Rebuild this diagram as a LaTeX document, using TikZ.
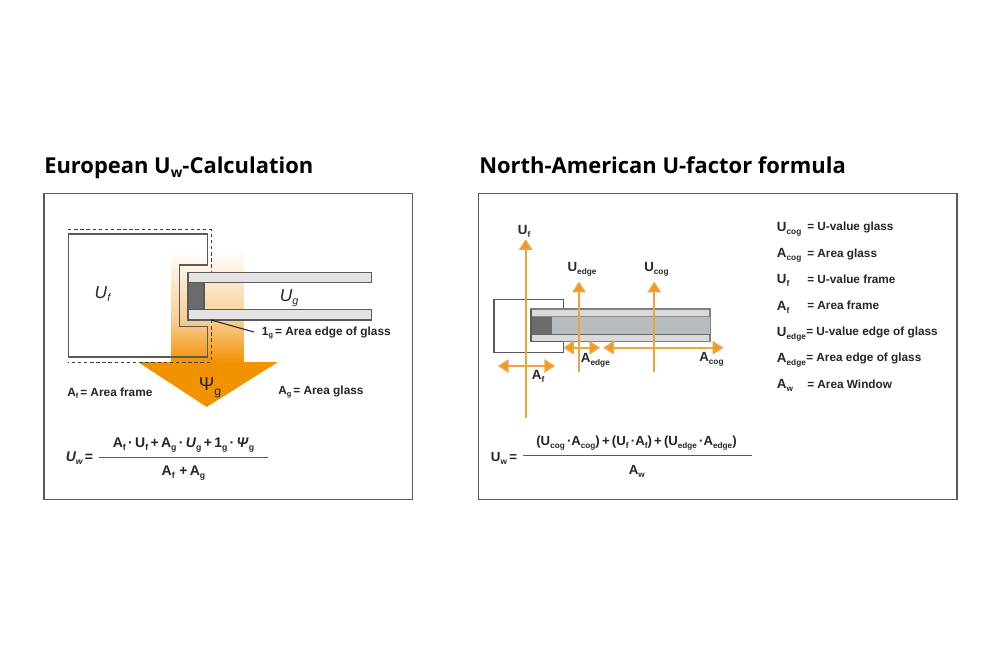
\documentclass[tikz,border=0pt]{standalone}
\usepackage{fontspec}
\setmainfont{Liberation Sans}
\newfontfamily\titlefont{Open Sans}
\usetikzlibrary{arrows.meta}
\definecolor{ink}{HTML}{262626}
\definecolor{boxline}{HTML}{5A5A5A}
\definecolor{orng}{HTML}{F39200}
\definecolor{orngmid}{HTML}{F9CB8E}
\definecolor{orngline}{HTML}{F0A33A}
\definecolor{orngtip}{HTML}{F0981E}
\definecolor{glassmid}{HTML}{B6BCC0}
\definecolor{glassout}{HTML}{DADADA}
\newcommand{\sbs}[1]{\smash{\raisebox{-0.42ex}{\scalebox{0.62}{#1}}}}
\newcommand{\fsz}[1]{\fontsize{#1}{#1}\selectfont}
\tikzset{
  x=0.75pt,y=-0.75pt,
  panel/.style={draw=boxline,line width=1pt},
  heading/.style={anchor=base west,inner sep=0,text=black,font=\titlefont\bfseries\fsz{16.45}},
  lbl/.style={anchor=west,inner sep=0,text=ink,text height=6.4pt,text depth=0pt,font=\bfseries\fsz{8.85}},
  midlbl/.style={lbl,font=\bfseries\fsz{8.9}},
  biglbl/.style={anchor=west,inner sep=0,text=ink,text height=6.6pt,text depth=0pt,font=\bfseries\fsz{10}},
  ital/.style={anchor=center,inner sep=0,text=ink,text height=9pt,text depth=0pt,font=\itshape\fsz{13}},
  frameline/.style={draw=boxline,line width=1.05pt},
  rule/.style={draw=boxline,line width=0.9pt},
  dashline/.style={draw=black!75,line width=0.7pt,dash pattern=on 2.6pt off 2pt},
  pane/.style={draw=boxline,line width=1.05pt,fill=black!11},
  oarrow/.style={draw=orngline,line width=1.3pt,-{Triangle[width=10pt,length=8pt,fill=orngtip]}},
  odouble/.style={draw=orngline,line width=1.3pt,{Triangle[width=10pt,length=8pt,fill=orngtip]}-{Triangle[width=10pt,length=8pt,fill=orngtip]}},
  fml/.style={inner sep=0,text=ink,text height=7pt,text depth=0pt,font=\bfseries\fsz{10.5}},
  fmr/.style={inner sep=0,text=ink,text height=7pt,text depth=0pt,font=\bfseries\fsz{9.9}},
}
\begin{document}
\begin{tikzpicture}
\useasboundingbox (0,0) rectangle (1000,668);
\fill[white] (0,0) rectangle (1000,668);

% headings
\node[heading] (t1) at (44,173) {European U\raisebox{-0.35ex}{\scalebox{0.62}{w}}-Calculation};
\node[heading] (t2) at (479,173) {North-American U-factor formula};

% panels
\draw[panel] (44,193.5) rectangle (412.5,499.5);
\draw[panel] (478.5,193.5) rectangle (957,499.5);

% ---------- left: heat flow
\shade[top color=white,bottom color=orngmid] (171.7,250) rectangle (243.3,322);
\shade[top color=orngmid,bottom color=orng] (171.7,321.5) rectangle (243.3,362.5);
\fill[orng] (138,362) -- (278,362) -- (206.7,407) -- cycle;

% frame
\draw[frameline] (68.3,234) -- (207.3,234) -- (207.3,265) -- (179.3,265) -- (179.3,326.7)
  -- (207.3,326.7) -- (207.3,357) -- (68.3,357) -- cycle;
% dashed outline
\draw[dashline] (68,229.5) -- (211,229.5) -- (211,272);
\draw[dashline] (211,320) -- (211,362) -- (68,362);
% glass
\draw[pane] (188,272.3) rectangle (371.7,282.3);
\draw[pane] (188,309.3) rectangle (371.7,320);
\draw[boxline,line width=1.05pt,fill=black!58] (188,282.3) rectangle (204,309.3);

\coordinate (leadA) at (211,320);
\node[midlbl] (edgelbl) at (261.7,331) {1\sbs{g}\,= Area edge of glass};
\draw[draw=ink,line width=0.8pt] (leadA) -- (254,332);

\node[ital] (uf) at (102.5,292) {U\sbs{f}};
\node[ital] (ug) at (289,295) {U\sbs{g}};
\node[inner sep=0,text=ink,text height=10pt,text depth=0pt,font=\fsz{14}] (psi) at (210,384) {Ψ\raisebox{-0.5ex}{\scalebox{0.65}{g}}};
\node[midlbl] (afl) at (67,392) {A\sbs{f}\,= Area frame};
\node[midlbl] (agl) at (278,390) {A\sbs{g}\,= Area glass};

% left formula
\node[biglbl,font=\bfseries\itshape\fsz{10.5}] (uwl) at (65.5,457) {U\sbs{w}\,\textup{=}};
\node[fml] (numl) at (183.5,443) {A\sbs{f}\,·\,U\sbs{f}\,+\,A\sbs{g}\,·\,\textit{U}\sbs{g}\,+\,1\sbs{g}\,·\,\textit{Ψ}\sbs{g}};
\node[fml] (denl) at (183.5,470.5) {A\sbs{f}\,\,+\,A\sbs{g}};
\coordinate (fl1) at (99.3,457.3);
\coordinate (fl2) at (268,457.3);
\draw[rule] (fl1) -- (fl2);

% ---------- right: frame + glass
\draw[frameline] (563.3,309) -- (563.3,299.3) -- (494,299.3) -- (494,352.7) -- (563.3,352.7) -- (563.3,341.5);
\draw[draw=black!50,line width=0.9pt,fill=glassout] (531,309) rectangle (710,341.3);
\fill[glassmid] (532,316.7) rectangle (710,334.3);
\draw[draw=black!45,line width=0.6pt] (532,316.7) -- (710,316.7);
\draw[draw=black!60,line width=0.7pt] (532,334.3) -- (710,334.3);
\fill[black!58] (532,316.7) rectangle (551.7,334.3);
\draw[draw=boxline,line width=1.05pt] (531,309) -- (531,341.3) -- (563.3,341.3);

% right arrows
\coordinate (ufa) at (525.7,418);  \coordinate (ufb) at (525.7,239.3);
\coordinate (uea) at (579,372);    \coordinate (ueb) at (579,281.7);
\coordinate (uca) at (654.3,372.3);\coordinate (ucb) at (654.3,281.7);
\coordinate (afa) at (498,366);    \coordinate (afb) at (555,366);
\coordinate (aea) at (563.3,347.7);\coordinate (aeb) at (600,347.7);
\coordinate (aca) at (603.3,347.7);\coordinate (acb) at (723.3,347.7);
\draw[oarrow] (ufa) -- (ufb);
\draw[oarrow] (uea) -- (ueb);
\draw[oarrow] (uca) -- (ucb);
\draw[odouble] (afa) -- (afb);
\draw[odouble] (aea) -- (aeb);
\draw[odouble] (aca) -- (acb);

\node[biglbl] (luf) at (517.7,230) {U\sbs{f}};
\node[biglbl] (lue) at (567.3,267) {U\sbs{edge}};
\node[biglbl] (luc) at (644,267) {U\sbs{cog}};
\node[biglbl] (lae) at (580.7,358.5) {A\sbs{edge}};
\node[biglbl] (lac) at (699,357) {A\sbs{cog}};
\node[biglbl] (laf) at (531.7,375) {A\sbs{f}};

% legend
\node[biglbl] (k1a) at (776.7,226.7) {U\sbs{cog}};   \node[lbl] (k1b) at (807,226.7) {= U-value glass};
\node[biglbl] (k2a) at (776.7,253.3) {A\sbs{cog}};   \node[lbl] (k2b) at (807,253.3) {= Area glass};
\node[biglbl] (k3a) at (776.7,279) {U\sbs{f}};       \node[lbl] (k3b) at (807,279) {= U-value frame};
\node[biglbl] (k4a) at (776.7,305.7) {A\sbs{f}};     \node[lbl] (k4b) at (807,305.7) {= Area frame};
\node[biglbl] (k5a) at (776.7,331.7) {U\sbs{edge}};  \node[lbl] (k5b) at (806,331.7) {= U-value edge of glass};
\node[biglbl] (k6a) at (776.7,357.7) {A\sbs{edge}};  \node[lbl] (k6b) at (806,357.7) {= Area edge of glass};
\node[biglbl] (k7a) at (776.7,384.3) {A\sbs{w}};     \node[lbl] (k7b) at (807,384.3) {= Area Window};

% right formula
\node[biglbl] (uwr) at (490.7,457) {U\sbs{w}\,=};
\node[fmr] (numr) at (636.5,440.7) {(U\sbs{cog}\,·A\sbs{cog})\,+\,(U\sbs{f}\,·A\sbs{f})\,+\,(U\sbs{edge}\,·A\sbs{edge})};
\node[fmr] (denr) at (636.7,470) {A\sbs{w}};
\coordinate (fr1) at (522.7,455.7);
\coordinate (fr2) at (751.7,455.7);
\draw[rule] (fr1) -- (fr2);
\end{tikzpicture}
\end{document}
